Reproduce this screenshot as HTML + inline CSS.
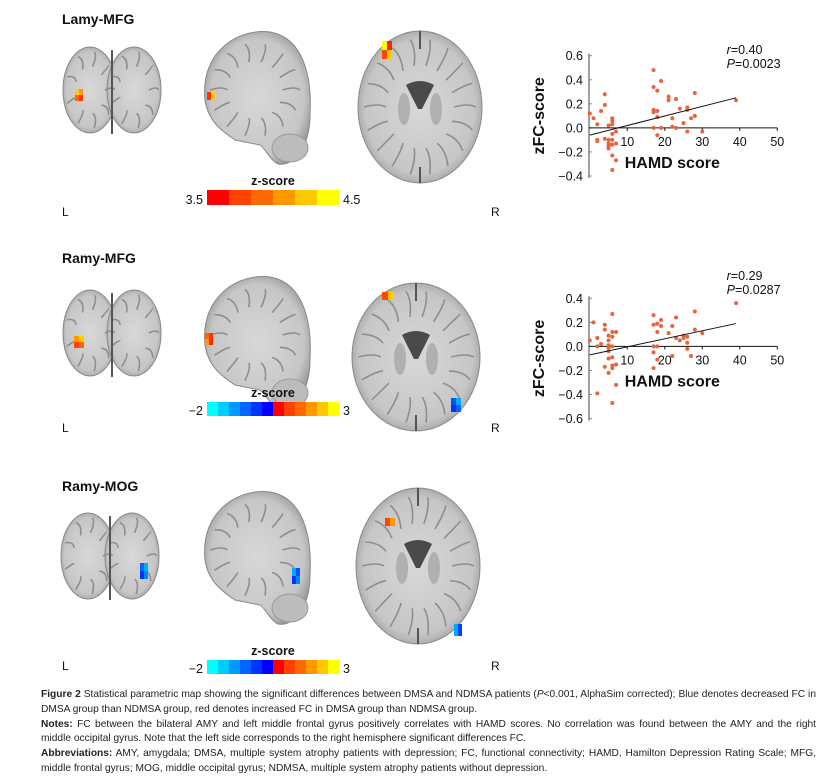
<!DOCTYPE html>
<html><head><meta charset="utf-8">
<style>
body{margin:0;background:#fff;width:832px;height:783px;overflow:hidden;font-family:"Liberation Sans",sans-serif}
#cap{position:absolute;left:41px;top:688px;width:775px;font-size:10.2px;line-height:14.8px;color:#222}
#cap div{text-align:justify;text-align-last:justify;white-space:nowrap}
#cap div.last{text-align-last:left}
</style></head><body>
<svg id="fig" width="832" height="783" style="position:absolute;left:0;top:0" font-family="Liberation Sans, sans-serif">
<defs>
<radialGradient id="brain" cx="50%" cy="50%" r="55%"><stop offset="0" stop-color="#d8d8d8"/><stop offset="0.8" stop-color="#c6c6c6"/><stop offset="1" stop-color="#9a9a9a"/></radialGradient>
</defs>
<g id="brains"></g>
<g id="chart1"></g>
<g id="chart2"></g>
</svg>
<div id="cap">
<div><b>Figure 2</b> Statistical parametric map showing the significant differences between DMSA and NDMSA patients (<i>P</i>&lt;0.001, AlphaSim corrected); Blue denotes decreased FC in</div>
<div class="last">DMSA group than NDMSA group, red denotes increased FC in DMSA group than NDMSA group.</div>
<div><b>Notes:</b> FC between the bilateral AMY and left middle frontal gyrus positively correlates with HAMD scores. No correlation was found between the AMY and the right</div>
<div class="last">middle occipital gyrus. Note that the left side corresponds to the right hemisphere significant differences FC.</div>
<div><b>Abbreviations:</b> AMY, amygdala; DMSA, multiple system atrophy patients with depression; FC, functional connectivity; HAMD, Hamilton Depression Rating Scale; MFG,</div>
<div class="last">middle frontal gyrus; MOG, middle occipital gyrus; NDMSA, multiple system atrophy patients without depression.</div>
</div>
<script>
// ---- Chart data ----
const xTicks = [10, 20, 30, 40, 50];
const y1Ticks = [0.6, 0.4, 0.2, 0.0, -0.2, -0.4];
const y2Ticks = [0.4, 0.2, 0.0, -0.2, -0.4, -0.6];
const s1X = [0,1,2,2,2,3,4,4,4,5,5,5,5,5,6,6,6,6,6,6,6,6,7,7,7,17,17,17,17,17,18,18,18,18,19,19,21,21,22,22,23,23,24,25,26,26,26,27,28,28,30,39];
const s1Y = [0.12,0.08,0.03,-0.1,-0.11,0.14,0.28,0.19,-0.09,0.02,-0.1,-0.13,-0.15,-0.17,0.08,0.06,0.03,-0.05,-0.1,-0.14,-0.23,-0.35,-0.03,-0.13,-0.27,0.48,0.34,0.15,0.13,0.0,0.31,0.14,0.09,-0.06,0.39,0.0,0.26,0.23,0.08,0.01,0.24,0.0,0.16,0.04,0.17,0.15,-0.03,0.08,0.29,0.1,-0.03,0.23];
const fit1 = [[0,-0.06],[39,0.25]];
const s2X = [0,1,2,2,2,3,4,4,4,5,5,5,5,5,5,5,6,6,6,6,6,6,6,6,7,7,7,17,17,17,17,17,18,18,18,18,19,19,21,22,22,23,23,24,25,25,26,26,26,27,28,28,30,39];
const s2Y = [0.05,0.2,0.07,0.0,-0.39,0.02,0.18,0.14,-0.17,0.09,0.05,0.01,-0.01,-0.04,-0.1,-0.22,0.27,0.12,0.08,0.0,-0.09,-0.16,-0.18,-0.47,0.12,-0.15,-0.32,0.26,0.18,0.0,-0.05,-0.18,0.19,0.12,0.0,-0.11,0.22,0.17,0.11,0.17,-0.08,0.24,0.07,0.05,0.09,0.07,0.08,0.03,-0.02,-0.08,0.29,0.14,0.11,0.36];
const fit2 = [[0,-0.07],[39,0.19]];
const stats1 = ["=0.40","=0.0023"];
const stats2 = ["=0.29","=0.0287"];

const NS="http://www.w3.org/2000/svg";
function mk(parent,tag,attrs,text){const e=document.createElementNS(NS,tag);for(const k in attrs)e.setAttribute(k,attrs[k]);if(text!==undefined)e.textContent=text;parent.appendChild(e);return e;}

function drawChart(g, xs, ys, fit, yTicks, yTop, stats, statY){
  const axX=589, unitX=3.75, unitY=120.3;
  const x = v => axX + 0.8 + v*unitX;
  const y0 = yTop + yTicks[0]*unitY;
  const y = v => y0 - v*unitY;
  const yBottom = y(yTicks[yTicks.length-1]);
  mk(g,'line',{x1:axX,y1:yTop-2,x2:axX,y2:yBottom+2,stroke:'#888','stroke-width':1.6});
  yTicks.forEach(t=>{
    const tk=mk(g,'line',{x1:axX,y1:y(t),x2:axX+3,y2:y(t),stroke:'#888'});
    
    
    const lb=mk(g,'text',{x:axX-6,y:y(t)+4.5,'text-anchor':'end','font-size':12.5,fill:'#111'},(t<0?'\u2212':'')+Math.abs(t).toFixed(1));
    
    
  });
  mk(g,'line',{x1:axX,y1:y(0),x2:x(50),y2:y(0),stroke:'#111','stroke-width':1});
  xTicks.forEach(t=>{
    const tk=mk(g,'line',{x1:x(t),y1:y(0),x2:x(t),y2:y(0)+3,stroke:'#111'});
    
    
    const lb=mk(g,'text',{x:x(t),y:y(0)+18,'text-anchor':'middle','font-size':12.5,fill:'#111'},String(t));
    
    
  });
  const xt=mk(g,'text',{x:x(22),y:y(0)+40,'text-anchor':'middle','font-size':16,'font-weight':'bold',fill:'#111'},'HAMD score');
  
  
  const yc=(yTop+yBottom)/2;
  const yt=mk(g,'text',{x:0,y:0,transform:`translate(${axX-45},${yc}) rotate(-90)`,'text-anchor':'middle','font-size':16,'font-weight':'bold',fill:'#111'},'zFC-score');
  
  
  xs.forEach((v,i)=>{
    const c=mk(g,'circle',{cx:x(v),cy:y(ys[i]),r:2,fill:'#e8643c'});
    
    
  });
  const fl=mk(g,'line',{x1:x(fit[0][0]),y1:y(fit[0][1]),x2:x(fit[1][0]),y2:y(fit[1][1]),stroke:'#111','stroke-width':1});
  
  
  const t1=mk(g,'text',{x:x(36.5),y:statY,'font-size':12.5,fill:'#111'});
  
  
  mk(t1,'tspan',{'font-style':'italic'},'r');mk(t1,'tspan',{},stats[0]);
  const t2=mk(g,'text',{x:x(36.5),y:statY+14,'font-size':12.5,fill:'#111'});
  
  
  mk(t2,'tspan',{'font-style':'italic'},'P');mk(t2,'tspan',{},stats[1]);
}
drawChart(document.getElementById('chart1'),s1X,s1Y,fit1,y1Ticks,55.7,stats1,54);
drawChart(document.getElementById('chart2'),s2X,s2Y,fit2,y2Ticks,298.3,stats2,280);

// ---- Brain panels (illustrative) ----
const B=document.getElementById('brains');
function label(x,y,t,size,bold,name,anchor){const e=mk(B,'text',{x:x,y:y,'font-size':size,'font-weight':bold?'bold':'normal',fill:'#111','text-anchor':anchor||'start'},t);return e;}
function gyri(g,cx,cy,rx,ry,n){for(let i=0;i<n;i++){const a=i/n*Math.PI*2;const x1=cx+Math.cos(a)*rx*0.9,y1=cy+Math.sin(a)*ry*0.9;const x2=cx+Math.cos(a)*rx*0.55,y2=cy+Math.sin(a)*ry*0.55;mk(g,'path',{d:`M${x1},${y1} Q${(x1+x2)/2+4},${(y1+y2)/2-4} ${x2},${y2}`,stroke:'#8e8e8e','stroke-width':1.6,fill:'none'});}}
function coronal(cx,cy,name){const g=mk(B,'g',{});
  mk(g,'ellipse',{cx:cx-22,cy:cy,rx:27,ry:43,fill:'url(#brain)',stroke:'#888'});
  mk(g,'ellipse',{cx:cx+22,cy:cy,rx:27,ry:43,fill:'url(#brain)',stroke:'#888'});
  gyri(g,cx-22,cy,27,43,9);gyri(g,cx+22,cy,27,43,9);
  mk(g,'line',{x1:cx,y1:cy-40,x2:cx,y2:cy+44,stroke:'#555','stroke-width':2});return g;}
function sagittal(x0,y0,name){const g=mk(B,'g',{});
  mk(g,'path',{d:`M${x0+5},${y0+70} C${x0},${y0+20} ${x0+40},${y0-2} ${x0+70},${y0+2} C${x0+105},${y0+8} ${x0+112},${y0+50} ${x0+110},${y0+85} C${x0+110},${y0+115} ${x0+95},${y0+137} ${x0+78},${y0+134} C${x0+70},${y0+130} ${x0+65},${y0+118} ${x0+60},${y0+115} L${x0+35},${y0+110} C${x0+20},${y0+100} ${x0+8},${y0+90} ${x0+5},${y0+70}Z`,fill:'url(#brain)',stroke:'#888'});
  gyri(g,x0+55,y0+60,50,52,14);
  mk(g,'ellipse',{cx:x0+90,cy:y0+118,rx:18,ry:14,fill:'#bcbcbc',stroke:'#999'});return g;}
function axial(cx,cy,rx,ry,name){const g=mk(B,'g',{});
  mk(g,'ellipse',{cx:cx,cy:cy,rx:rx,ry:ry,fill:'url(#brain)',stroke:'#888'});
  gyri(g,cx,cy,rx,ry,18);
  mk(g,'path',{d:`M${cx-14},${cy-22} Q${cx},${cy-30} ${cx+14},${cy-22} L${cx+2},${cy+2} L${cx-2},${cy+2}Z`,fill:'#4a4a4a'});
  mk(g,'ellipse',{cx:cx-16,cy:cy+2,rx:6,ry:16,fill:'#b0b0b0'});mk(g,'ellipse',{cx:cx+16,cy:cy+2,rx:6,ry:16,fill:'#b0b0b0'});
  mk(g,'line',{x1:cx,y1:cy-ry,x2:cx,y2:cy-ry+18,stroke:'#555','stroke-width':2});
  mk(g,'line',{x1:cx,y1:cy+ry-16,x2:cx,y2:cy+ry,stroke:'#555','stroke-width':2});return g;}
function blob(x,y,w,h,colors){colors.forEach((c,i)=>{const r=mk(B,'rect',{x:x+(i%2)*w/2,y:y+Math.floor(i/2)*h/Math.ceil(colors.length/2),width:w/2,height:h/Math.ceil(colors.length/2),fill:c});});}
function colorbar(x,y,w,h,cols,lo,hi,name){const g=mk(B,'g',{});
  cols.forEach((c,i)=>mk(g,'rect',{x:x+i*w/cols.length,y:y,width:w/cols.length+0.5,height:h,fill:c}));
  const l=mk(B,'text',{x:x-4,y:y+h-1,'font-size':12.5,'text-anchor':'end',fill:'#111'},lo);
  const r=mk(B,'text',{x:x+w+4,y:y+h-1,'font-size':12.5,fill:'#111'},hi);
  label(x+w/2,y-5,'z-score',12.5,true,'colorbar-title','middle');}
const hot=['#ff0000','#ff4000','#ff6a00','#ff9900','#ffc800','#ffff00'];
const cool=['#00ffff','#00ccff','#0099ff','#0066ff','#0033ff','#0000ff','#ff0000','#ff4000','#ff6a00','#ff9900','#ffc800','#ffff00'];
// Row 1
label(62,24,'Lamy-MFG',14,true,'panel-title-lamy-mfg');
coronal(112,90,'coronal-slice-1');sagittal(200,30,'sagittal-slice-1');axial(420,107,62,76,'axial-slice-1');
blob(75,89,8,12,['#ffcc00','#ff9900','#ff6600','#ff3300']);blob(207,92,8,8,['#ff3300','#ffcc00']);blob(382,41,10,18,['#ffff00','#ff2200','#ff4400','#ffcc00']);
colorbar(207,190,132,15,hot,'3.5','4.5','colorbar-1');
label(62,216,'L',12,false,'left-label-1');label(491,216,'R',12,false,'right-label-1');
// Row 2
label(62,263,'Ramy-MFG',14,true,'panel-title-ramy-mfg');
coronal(112,333,'coronal-slice-2');sagittal(200,275,'sagittal-slice-2');axial(416,357,64,74,'axial-slice-2');
blob(74,336,10,12,['#ff9900','#ffcc00','#ff4400','#ff6600']);blob(205,333,8,12,['#ff6600','#ff3300','#ff9900','#ff2200']);blob(382,292,12,8,['#ff4400','#ffcc00']);blob(451,398,10,14,['#0055ff','#00aaff','#0033ff','#0066ff']);
colorbar(207,402,132,14,cool,'\u22122','3','colorbar-2');
label(62,432,'L',12,false,'left-label-2');label(491,432,'R',12,false,'right-label-2');
// Row 3
label(62,491,'Ramy-MOG',14,true,'panel-title-ramy-mog');
coronal(110,556,'coronal-slice-3');sagittal(200,490,'sagittal-slice-3');axial(418,566,62,78,'axial-slice-3');
blob(140,563,8,16,['#0066ff','#00aaff','#0033ff','#0088ff']);blob(292,568,8,16,['#00aaff','#0055ff','#0033ff','#0088ff']);blob(385,518,10,8,['#ff4400','#ff9900']);blob(454,624,8,12,['#00aaff','#0044ff']);
colorbar(207,660,132,14,cool,'\u22122','3','colorbar-3');
label(62,670,'L',12,false,'left-label-3');label(491,670,'R',12,false,'right-label-3');
</script>
</body></html>
